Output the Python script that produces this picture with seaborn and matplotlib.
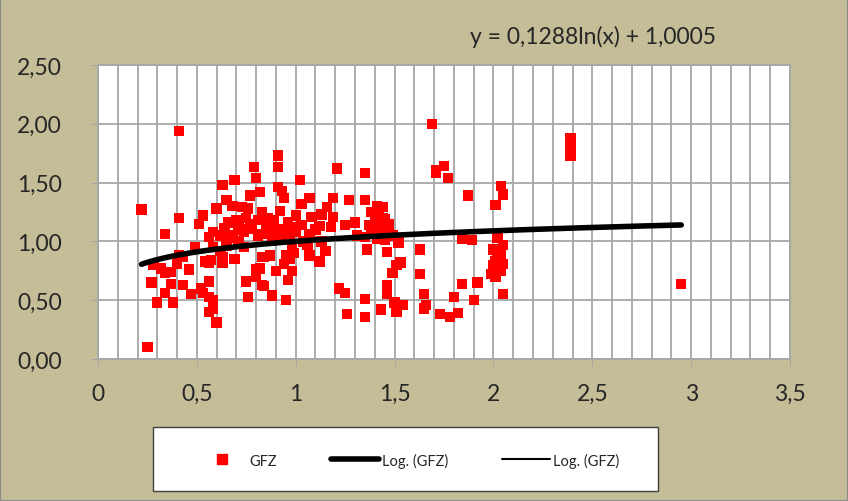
import numpy as np
import matplotlib
matplotlib.use("Agg")
import matplotlib.pyplot as plt
from matplotlib.lines import Line2D
from matplotlib.patches import Rectangle
from matplotlib.ticker import MultipleLocator, FuncFormatter
import seaborn as sns

# Datos GFZ
gfz_x = [
    0.41, 0.22, 0.41, 0.34, 0.79, 0.80, 0.69, 0.63, 0.77, 0.82, 0.65, 0.68, 0.60, 0.53, 0.51,
    0.73, 0.76, 0.83, 0.66, 0.71, 0.64, 0.78, 0.56, 0.58, 0.62, 0.68, 0.74, 0.81, 0.49, 0.74,
    0.83, 0.41, 0.43, 0.28, 0.32, 0.34, 0.37, 0.40, 0.46, 0.54, 0.57, 0.63, 0.69, 0.27, 0.34,
    0.30, 0.38, 0.37, 0.43, 0.47, 0.52, 0.53, 0.56, 0.56, 0.58, 0.58, 0.56, 0.60, 0.25, 0.75,
    0.80, 0.80, 0.76, 0.83, 0.84,
    0.91, 0.91, 1.21, 1.35, 1.02, 0.91, 0.93, 0.94, 1.07, 1.03, 1.19, 1.27, 1.35, 1.16, 1.13,
    1.19, 1.08, 1.00, 0.92, 0.87, 0.96, 0.98, 1.03, 1.12, 1.25, 1.30, 1.37, 1.41, 1.44, 1.40,
    1.45, 1.47, 1.39, 1.42, 0.88, 0.94, 1.07, 0.83, 1.31, 1.35, 1.45, 1.06, 0.87, 0.95, 0.98,
    1.07, 1.12, 1.15, 1.36, 1.46, 0.94, 0.90, 0.98, 0.96, 0.82, 0.84, 0.88, 0.95, 1.22, 1.25,
    1.35, 1.26, 1.35, 1.43, 1.46, 1.46, 1.49, 1.50, 1.51,
    1.69, 1.71, 1.75, 1.71, 1.77, 1.87, 2.04, 2.05, 2.01, 1.52, 1.63, 1.53, 1.63, 1.84, 1.89,
    2.02, 2.05, 2.00, 2.04, 2.01, 2.05, 1.99, 2.01, 1.84, 1.92, 1.80, 1.90, 2.05, 1.65, 1.66,
    1.65, 1.54, 1.51, 1.73, 1.78, 1.82,
    2.39, 2.39, 2.39, 2.39, 2.39, 2.39, 2.95,
    1.38, 1.42, 1.44, 1.40, 1.43, 1.47, 1.38, 1.44, 1.49, 1.41,
    0.70, 0.72, 0.75, 0.77, 0.86, 0.89, 0.92, 0.85, 0.81, 0.66, 0.71, 0.88, 0.93, 0.97, 1.00,
    1.10, 1.18, 0.62, 0.58, 0.56, 0.63, 0.65, 0.97, 0.99, 1.04, 1.13,
    2.02, 2.03, 2.04, 2.00,
]
gfz_y = [
    1.94, 1.27, 1.20, 1.06, 1.63, 1.54, 1.52, 1.48, 1.39, 1.42, 1.35, 1.30, 1.28, 1.22, 1.15,
    1.29, 1.28, 1.25, 1.16, 1.14, 1.11, 1.11, 1.04, 1.08, 1.05, 1.05, 1.08, 1.05, 0.95, 0.95,
    0.87, 0.88, 0.87, 0.80, 0.77, 0.73, 0.74, 0.81, 0.76, 0.83, 0.84, 0.82, 0.85, 0.65, 0.56,
    0.48, 0.48, 0.64, 0.63, 0.55, 0.60, 0.56, 0.66, 0.53, 0.50, 0.43, 0.40, 0.31, 0.10, 0.66,
    0.76, 0.70, 0.53, 0.63, 0.87,
    1.73, 1.63, 1.62, 1.58, 1.52, 1.46, 1.43, 1.37, 1.37, 1.32, 1.37, 1.35, 1.35, 1.29, 1.23,
    1.21, 1.21, 1.22, 1.26, 1.16, 1.16, 1.12, 1.14, 1.13, 1.14, 1.16, 1.14, 1.30, 1.29, 1.22,
    1.19, 1.15, 1.12, 1.16, 1.09, 1.08, 1.06, 1.06, 1.05, 1.04, 1.01, 0.97, 0.88, 0.88, 0.97,
    0.88, 0.83, 0.92, 0.93, 0.91, 0.81, 0.75, 0.75, 0.67, 0.77, 0.62, 0.54, 0.50, 0.60, 0.56,
    0.51, 0.38, 0.36, 0.42, 0.63, 0.55, 0.73, 0.48, 0.80,
    2.00, 1.61, 1.64, 1.58, 1.54, 1.39, 1.47, 1.40, 1.31, 0.99, 0.93, 0.82, 0.72, 1.02, 1.01,
    1.03, 0.97, 0.93, 0.88, 0.83, 0.81, 0.72, 0.70, 0.64, 0.65, 0.53, 0.50, 0.55, 0.55, 0.46,
    0.43, 0.46, 0.40, 0.38, 0.36, 0.39,
    1.88, 1.85, 1.82, 1.78, 1.75, 1.73, 0.64,
    1.25, 1.25, 1.20, 1.18, 1.10, 1.10, 1.08, 1.06, 1.05, 1.02,
    1.18, 1.10, 1.20, 1.15, 1.20, 1.18, 1.10, 1.12, 1.18, 1.03, 1.00, 1.02, 1.04, 1.06, 1.08,
    1.10, 1.12, 0.92, 0.95, 0.82, 0.87, 0.96, 0.85, 0.90, 1.00, 1.00,
    0.90, 0.78, 0.75, 0.80,
]

# Linea de tendencia logaritmica (Excel): y = a ln(x) + b
trend_a = 0.1288
trend_b = 1.0005
trend_label = "y = 0,1288ln(x) + 1,0005"

tan = "#C4BD97"
grid_col = "#A6A6A6"

sns.set_style("white")
plt.rcParams["font.family"] = ["Lato", "DejaVu Sans"]

fig = plt.figure(figsize=(8.48, 5.02), dpi=100, facecolor=tan)
ax = fig.add_axes([98 / 848, 1 - 360 / 502, 692 / 848, 294 / 502])
ax.set_facecolor("white")

sns.scatterplot(x=gfz_x, y=gfz_y, ax=ax, marker="s", s=55, color="#FF0000",
                edgecolor="none", linewidth=0, zorder=3)

tx = np.linspace(min(gfz_x), max(gfz_x), 200)
sns.lineplot(x=tx, y=trend_a * np.log(tx) + trend_b, ax=ax, color="black",
             linewidth=4, zorder=4, solid_capstyle="round")

ax.set_xlim(0, 3.5)
ax.set_ylim(0, 2.5)
ax.xaxis.set_major_locator(MultipleLocator(0.5))
ax.xaxis.set_minor_locator(MultipleLocator(0.1))
ax.yaxis.set_major_locator(MultipleLocator(0.5))
ax.grid(True, which="major", axis="y", color=grid_col, linewidth=1.3, zorder=0)
ax.grid(True, which="both", axis="x", color=grid_col, linewidth=1.3, zorder=0)
ax.set_axisbelow(True)

fmt_x = FuncFormatter(lambda v, p: f"{v:g}".replace(".", ","))
fmt_y = FuncFormatter(lambda v, p: f"{v:.2f}".replace(".", ","))
ax.xaxis.set_major_formatter(fmt_x)
ax.yaxis.set_major_formatter(fmt_y)
ax.tick_params(axis="both", which="major", labelsize=16.5, length=5, color=grid_col,
               direction="out", bottom=True, left=True)
ax.tick_params(axis="x", which="major", pad=12)
ax.tick_params(axis="y", which="major", pad=21)
ax.tick_params(axis="x", which="minor", length=0)
for s in ax.spines.values():
    s.set_color(grid_col)
    s.set_linewidth(1.3)
ax.set_xlabel("")
ax.set_ylabel("")

fig.text(593 / 848, 1 - 37 / 502, trend_label, fontsize=16.5, ha="center", va="center")

# Cuadro de leyenda
fig.patches.append(Rectangle((153 / 848, 1 - 492 / 502), 505 / 848, 64 / 502,
                             transform=fig.transFigure, facecolor="white",
                             edgecolor="#404040", linewidth=1, zorder=1))
handles = [
    Line2D([], [], marker="s", color="#FF0000", linestyle="none", markersize=7),
    Line2D([], [], color="black", linewidth=4),
    Line2D([], [], color="black", linewidth=1.5),
]
labels = ["GFZ", "Log. (GFZ)", "Log. (GFZ)"]
leg = fig.legend(handles, labels, loc="center", bbox_to_anchor=(409 / 848, 1 - 461 / 502),
                 ncol=3, frameon=False, fontsize=10.5, handlelength=3.3,
                 columnspacing=3.7, handletextpad=0.2)
leg.set_zorder(5)

fig.patches.append(Rectangle((0, 0), 1, 1, transform=fig.transFigure, facecolor="none",
                             edgecolor="#8C8C8C", linewidth=1.5))

fig.savefig("out.png", dpi=100, facecolor=tan)
